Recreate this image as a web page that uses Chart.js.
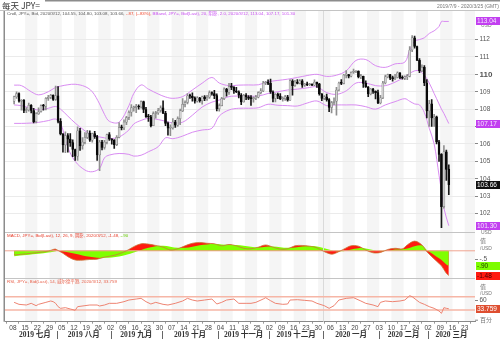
<!DOCTYPE html>
<html>
<head>
<meta charset="utf-8">
<script src="https://cdn.jsdelivr.net/npm/chart.js@4.4.1/dist/chart.umd.min.js"></script>
<style>
html, body { margin: 0; padding: 0; background: #fff; }
#wrap { position: relative; width: 500px; height: 347px; overflow: hidden; }
#chart { position: absolute; left: 0; top: 0; }
.hd { position: absolute; white-space: nowrap; }
</style>
</head>
<body>
<div id="wrap">
  <canvas id="chart" width="500" height="347"></canvas>
  <div class="hd" style="left:2px;top:-1px;font:8.5px 'Noto Sans CJK SC',sans-serif;color:#333">每天 JPY=</div>
  <div class="hd" style="right:1px;top:3px;font:5px 'Liberation Sans',sans-serif;color:#777">2019/7/9 - 2020/3/25 (GMT)</div>
</div>
<script>
const FONT = "'Liberation Sans', 'Noto Sans CJK SC', sans-serif";

// daily candles, one per weekday: index 0 = Mon 2019/7/8 ... index 178 = Thu 2020/3/12
const opens = [
  108.45,108.70,108.90,108.45,108.50, 107.92,107.95,108.22,107.92,107.28,
  107.73,107.85,108.20,108.17,108.62, 108.68,108.79,108.56,108.76,107.30,
  106.58,105.94,106.48,106.28,106.07, 105.68,105.30,106.75,105.90,106.10,
  106.38,106.62,106.22,106.60,106.42, 105.37,106.10,105.80,106.10,106.53,
  106.27,106.22,105.96,106.38,106.94, 106.92,107.25,107.52,107.82,108.08,
  108.10,108.15,108.12,108.44,107.98, 107.57,107.55,107.05,107.75,107.78,
  107.92,108.08,107.76,107.18,106.90, 106.92,107.25,107.08,107.45,107.90,
  108.28,108.38,108.76,108.75,108.65, 108.45,108.65,108.48,108.70,108.58,
  108.68,108.95,108.90,108.78,108.02, 108.20,108.60,109.15,108.98,109.30,
  109.25,109.05,109.00,108.80,108.42, 108.80,108.70,108.62,108.60,108.65,
  108.68,108.95,109.05,109.50,109.52, 109.48,109.00,108.62,108.85,108.75,
  108.58,108.60,108.70,108.52,109.62, 109.35,109.55,109.48,109.62,109.38,
  109.42,109.40,109.42,109.38,109.55, 109.45,108.88,108.62,108.70,108.55,
  108.10,108.38,108.45,109.10,109.50, 109.48,109.95,109.98,109.90,110.12,
  110.15,110.18,109.85,109.88,109.48, 109.28,108.88,109.15,109.02,108.95,
  108.35,108.65,109.50,109.85,109.98, 109.78,109.75,109.82,110.08,109.82,
  109.78,109.85,109.90,111.40,112.10, 111.60,110.80,110.20,110.40,109.50,
  107.90,108.30,107.50,107.55,106.12, 105.40,102.40,105.55,104.55
];
const highs = [
  108.75,108.99,108.94,108.55,108.55, 108.09,108.35,108.26,108.05,107.80,
  108.07,108.25,108.27,108.66,108.80, 108.85,108.82,109.32,109.30,107.45,
  106.60,106.70,106.60,106.60,106.24, 105.70,106.98,106.90,106.36,106.65,
  106.78,106.75,106.62,106.73,106.50, 106.20,106.20,106.20,106.57,106.65,
  106.30,106.25,106.48,107.23,107.08, 107.38,107.58,107.90,108.26,108.18,
  108.28,108.25,108.48,108.46,108.10, 107.70,107.65,107.85,107.88,108.05,
  108.19,108.47,107.88,107.25,107.10, 107.45,107.35,107.55,108.00,108.60,
  108.48,108.90,108.86,108.94,108.70, 108.72,108.68,108.75,108.78,108.80,
  109.05,109.00,109.08,108.88,108.30, 108.68,109.22,109.20,109.48,109.48,
  109.30,109.25,109.05,108.90,108.85, 108.90,108.78,108.78,108.70,108.80,
  109.00,109.18,109.60,109.60,109.68, 109.72,109.05,108.90,108.92,108.90,
  108.70,108.80,108.80,109.70,109.70, 109.65,109.70,109.70,109.70,109.48,
  109.55,109.48,109.45,109.68,109.55, 109.48,108.90,108.78,108.86,108.60,
  108.45,108.65,109.25,109.55,109.70, 110.00,110.22,110.00,110.15,110.30,
  110.20,110.20,110.00,109.90,109.62, 109.30,109.20,109.20,109.05,109.10,
  108.80,109.60,109.95,110.02,110.00, 109.90,110.00,110.15,110.10,109.92,
  109.92,110.00,111.60,112.22,112.20, 111.62,110.90,110.55,110.50,109.70,
  108.50,108.55,107.70,107.60,106.20, 105.45,105.90,105.65,104.80
];
const lows = [
  108.30,108.62,108.40,107.94,107.80, 107.80,107.88,107.78,107.21,107.20,
  107.70,107.83,107.94,107.95,108.50, 108.60,108.50,108.50,107.20,106.52,
  105.52,105.50,105.52,105.85,105.27, 105.05,105.05,105.63,105.70,106.00,
  106.30,106.14,106.10,106.31,105.05, 104.46,105.65,105.70,106.00,106.20,
  105.99,105.74,105.90,106.35,106.80, 106.82,107.10,107.40,107.60,107.88,
  107.80,108.00,108.05,107.80,107.52, 107.30,106.97,107.05,107.48,107.70,
  107.82,107.75,107.05,106.50,106.48, 106.85,106.95,107.00,107.10,107.85,
  108.12,108.30,108.62,108.45,108.34, 108.40,108.40,108.28,108.48,108.50,
  108.62,108.80,108.60,107.90,107.88, 108.18,108.55,108.75,108.85,109.12,
  108.90,108.95,108.65,108.25,108.40, 108.55,108.55,108.22,108.40,108.55,
  108.65,108.88,109.00,109.40,109.40, 108.90,108.42,108.42,108.60,108.55,
  108.45,108.50,108.45,108.50,108.80, 109.30,109.45,109.45,109.25,109.30,
  109.35,109.35,109.35,109.35,109.25, 108.80,108.48,108.55,108.45,107.85,
  107.78,108.25,107.65,109.05,109.40, 109.45,109.80,109.80,109.85,110.05,
  110.10,109.80,109.75,109.25,109.25, 108.72,108.82,108.90,108.58,108.32,
  108.30,108.60,109.45,109.80,109.70, 109.60,109.70,109.80,109.75,109.72,
  109.70,109.70,109.85,111.30,111.50, 110.80,110.10,110.15,109.35,107.50,
  107.00,107.00,107.00,106.00,105.00, 101.18,102.30,103.90,103.08
];
const closes = [
  108.70,108.90,108.45,108.50,107.92, 107.95,108.22,107.92,107.28,107.73,
  107.85,108.20,108.17,108.62,108.68, 108.79,108.56,108.76,107.30,106.58,
  105.94,106.48,106.28,106.07,105.68, 105.30,106.75,105.90,106.10,106.38,
  106.62,106.22,106.60,106.42,105.37, 106.10,105.80,106.10,106.53,106.27,
  106.22,105.96,106.38,106.94,106.92, 107.25,107.52,107.82,108.08,108.10,
  108.15,108.12,108.44,107.98,107.57, 107.55,107.05,107.75,107.78,107.92,
  108.08,107.76,107.18,106.90,106.92, 107.25,107.08,107.45,107.90,108.28,
  108.38,108.76,108.75,108.65,108.45, 108.65,108.48,108.70,108.58,108.68,
  108.95,108.90,108.78,108.02,108.20, 108.60,109.15,108.98,109.30,109.25,
  109.05,109.00,108.80,108.42,108.80, 108.70,108.62,108.60,108.65,108.68,
  108.95,109.05,109.50,109.52,109.48, 109.00,108.62,108.85,108.75,108.58,
  108.60,108.70,108.52,109.62,109.35, 109.55,109.48,109.62,109.38,109.42,
  109.40,109.42,109.38,109.55,109.45, 108.88,108.62,108.70,108.55,108.10,
  108.38,108.45,109.10,109.50,109.48, 109.95,109.98,109.90,110.12,110.15,
  110.18,109.85,109.88,109.48,109.28, 108.88,109.15,109.02,108.95,108.35,
  108.65,109.50,109.85,109.98,109.78, 109.75,109.82,110.08,109.82,109.78,
  109.85,109.90,111.40,112.10,111.60, 110.80,110.20,110.40,109.50,107.90,
  108.30,107.50,107.55,106.12,105.40, 102.40,105.55,104.53,103.66
];

// Bollinger band (20, 2) at these day indices
const bbIdx = [0,3,7,10,14,17,19,22,25,29,32,35,37,39,43,47,49,52,55,59,62,65,69,73,77,81,84,88,92,96,
  100,104,108,112,116,120,124,128,132,136,140,144,148,152,156,160,162,164,166,168,170,172,174,175,176,178];
const bbUpper = [109.38,109.35,109.00,108.82,109.00,109.25,109.32,109.40,109.43,109.30,
  109.00,108.30,107.70,107.30,107.25,108.20,108.90,109.39,109.15,108.87,
  108.70,108.62,108.72,109.10,109.49,109.82,109.50,109.35,109.38,109.39,
  109.40,109.57,109.65,109.72,109.82,109.93,110.00,109.88,109.95,110.20,
  110.80,110.85,110.50,110.40,110.60,110.70,111.40,111.90,112.00,112.10,
  112.35,112.50,112.75,113.04,113.04,113.04];
const bbMid = [108.24,108.20,108.05,107.95,108.05,108.15,108.00,107.60,107.20,106.75,
  106.50,106.40,106.35,106.30,106.40,106.80,107.15,107.35,107.47,107.40,
  107.30,107.20,107.25,107.65,108.12,108.40,108.52,108.72,108.75,108.75,
  108.75,108.90,109.00,109.10,109.15,109.22,109.28,108.95,108.85,109.05,
  109.50,109.50,109.35,109.35,109.55,109.85,110.05,110.20,110.20,109.95,
  109.50,108.90,108.30,108.00,107.75,107.17];
const bbLower = [107.18,107.18,107.20,107.24,107.34,107.43,107.20,105.80,105.00,104.50,
  104.40,104.60,105.20,105.36,105.45,105.40,105.30,105.35,105.55,105.84,
  106.35,106.30,106.45,106.67,106.80,106.90,107.60,107.95,108.05,108.05,
  108.08,108.28,108.22,108.20,108.18,108.35,108.47,108.20,108.24,108.24,
  108.24,108.14,108.00,108.24,108.43,108.60,108.45,108.30,108.24,107.80,
  106.90,106.00,104.20,103.30,102.30,101.30];

// MACD (12, 26, 9)
const macdIdx = [0,5,10,14,16,17,18,20,22,25,28,31,34,37,40,43,46,49,52,55,58,61,64,67,70,73,76,79,82,85,
  88,91,94,97,100,103,106,109,112,115,118,121,124,127,130,132,135,138,141,144,147,150,153,156,159,161,164,167,169,171,
  173,175,177,178];
const macdLine = [-0.25,-0.18,-0.10,-0.02,0.08,0.10,0.02,-0.15,-0.35,-0.55,
  -0.56,-0.52,-0.50,-0.38,-0.30,-0.18,0.00,0.25,0.42,0.40,
  0.32,0.22,0.05,0.12,0.30,0.45,0.50,0.45,0.42,0.30,
  0.38,0.30,0.15,0.12,0.22,0.35,0.22,0.10,0.12,0.30,
  0.32,0.28,0.18,-0.05,-0.20,-0.12,0.10,0.30,0.28,0.05,
  -0.12,-0.10,0.08,0.15,0.12,0.35,0.58,0.35,-0.05,-0.35,
  -0.62,-0.90,-1.35,-1.48];
const macdSignal = [-0.32,-0.25,-0.18,-0.10,-0.05,-0.02,0.00,-0.02,-0.08,-0.18,
  -0.28,-0.36,-0.42,-0.42,-0.40,-0.34,-0.24,-0.10,0.05,0.18,
  0.28,0.30,0.25,0.18,0.18,0.25,0.33,0.38,0.40,0.38,
  0.36,0.34,0.30,0.24,0.20,0.24,0.26,0.22,0.18,0.20,
  0.26,0.28,0.26,0.15,0.04,-0.02,-0.02,0.08,0.16,0.14,
  0.05,-0.02,0.00,0.08,0.10,0.14,0.28,0.32,0.05,-0.15,
  -0.35,-0.55,-0.82,-0.90];

// RSI (14, Wilder)
const rsiIdx = [0,2,5,7,9,10,13,15,16,17,18,19,21,23,25,26,29,31,34,35,37,39,42,45,47,50,52,54,56,58,
  61,63,66,69,71,73,75,78,81,83,85,87,90,92,95,97,99,102,103,105,107,110,112,113,116,119,122,124,127,129,
  131,133,136,139,142,144,147,149,150,152,155,158,160,162,163,166,168,170,172,174,175,176,177,178];
const rsiVal = [53,47,45,50,43,47,53,57,55,50,40,35,37,33,29,40,43,45,45,42,
  45,50,50,55,60,63,65,55,48,53,47,45,50,57,65,60,57,60,63,48,
  53,60,63,50,50,50,53,63,67,58,50,47,48,60,61,59,57,50,43,35,
  43,60,65,67,57,50,45,40,53,57,55,57,60,73,70,53,47,40,35,27,
  20,37,35,33.759];
const rsiBands = [70, 30];

// axis labels
const dayLabels = ['08','15','22','29','05','12','19','26','02','09','16','23','30','07','14','21','28','04','11',
  '18','25','02','09','16','23','30','06','13','20','27','03','10','17','24','02','09','16','23'];
const monthLabels = ['2019 七月','2019 八月','2019 九月','2019 十月','2019 十一月','2019 十二月','2020 一月','2020 二月','2020 三月'];
const monthStarts = [0, 18, 40, 61, 84, 105, 127, 150, 170];
const priceTicks = [102,103,104,105,106,107,108,109,110,111,112];

const last = closes.length - 1;
const pts = (idx, vals) => idx.map((x, k) => ({x, y: vals[k]}));
const isUp = i => closes[i] >= opens[i];
const trim = v => v.toFixed(2).replace(/^(-?)0\./, '$1.');

function hline(ctx, x1, y1, x2, y2) {
  ctx.beginPath(); ctx.moveTo(x1, y1); ctx.lineTo(x2, y2); ctx.stroke();
}
function tag(ctx, y, text, bg, fg) {
  ctx.fillStyle = bg;
  ctx.fillRect(476, Math.round(y) - 4, 24, 8);
  ctx.fillStyle = fg;
  ctx.font = '6.5px ' + FONT;
  ctx.textAlign = 'left';
  ctx.textBaseline = 'middle';
  ctx.fillText(text, 477, Math.round(y) + 0.5);
}
function segs(ctx, x, y, parts) {
  ctx.font = '4.4px ' + FONT;
  ctx.textAlign = 'left';
  ctx.textBaseline = 'middle';
  parts.forEach(([t, c]) => { ctx.fillStyle = c; ctx.fillText(t, x, y); x += ctx.measureText(t).width; });
}

const decor = {
  id: 'decor',
  beforeDraw(chart) {
    const {ctx, chartArea: a, scales: {x}} = chart;
    ctx.save();
    ctx.fillStyle = '#fff';
    ctx.fillRect(0, 0, chart.width, chart.height);
    ctx.fillStyle = '#f5f5f5';
    dayLabels.forEach((d, k) => {
      if (k % 2 === 0) return;
      const l = Math.max(a.left, x.getPixelForValue(5 * k - 0.5));
      const r = Math.min(a.right, x.getPixelForValue(5 * k + 4.5));
      if (r > l) ctx.fillRect(l, a.top, r - l, a.bottom - a.top);
    });
    ctx.restore();
  },
  beforeDatasetsDraw(chart) {
    const {ctx, chartArea: a, scales: {x, yMacd, yRsi}} = chart;
    ctx.save();
    ctx.strokeStyle = '#dadada';
    ctx.lineWidth = 1;
    const xy = Math.round(x.getPixelForValue(monthStarts[6] - 0.5)) + 0.5;
    hline(ctx, xy, a.top, xy, a.bottom);
    ctx.strokeStyle = '#f0a490';
    const y0 = yMacd.getPixelForValue(0);
    hline(ctx, a.left, y0, a.right, y0);
    ctx.strokeStyle = '#f6b6a6';
    ctx.lineWidth = 1.5;
    rsiBands.forEach(v => { const y = yRsi.getPixelForValue(v); hline(ctx, a.left, y, a.right, y); });
    ctx.restore();
  },
  afterDraw(chart) {
    const {ctx, chartArea: a, scales: {x, yMain, yMacd, yRsi}} = chart;
    ctx.save();
    // frame
    ctx.strokeStyle = '#c4c4c4';
    ctx.lineWidth = 1;
    hline(ctx, a.left, Math.round(yMain.bottom) + 0.5, a.right, Math.round(yMain.bottom) + 0.5);
    hline(ctx, a.left, Math.round(yMacd.bottom) + 0.5, a.right, Math.round(yMacd.bottom) + 0.5);
    hline(ctx, 0, 10.5, 500, 10.5);
    ctx.strokeStyle = '#8c8c8c';
    ctx.lineWidth = 1.5;
    hline(ctx, 4.25, a.top, 4.25, a.bottom);
    hline(ctx, 45, 0.75, 500, 0.75);

    // panel captions
    const chg = closes[last] - closes[last - 1];
    segs(ctx, 7, 13.5, [
      [`Cndl, JPY=, Bid, 2020/3/12, ${opens[last].toFixed(2)}, ${highs[last].toFixed(2)}, ${lows[last].toFixed(2)}, ${closes[last].toFixed(2)}, `, '#555'],
      [`${trim(chg)}, (${trim(chg / closes[last - 1] * 100)}%), `, '#f0462c'],
      [`BBand, JPY=, Bid(Last), 20, 阴影, 2.0, 2020/3/12, ${bbUpper[bbUpper.length - 1].toFixed(2)}, ${bbMid[bbMid.length - 1].toFixed(2)}, ${bbLower[bbLower.length - 1].toFixed(2)}`, '#c850f0']
    ]);
    const mL = macdLine[macdLine.length - 1], mS = macdSignal[macdSignal.length - 1];
    segs(ctx, 7, yMain.bottom + 3.5, [
      [`MACD, JPY=, Bid(Last), 12, 26, 9, 阴影, 2020/3/12, ${trim(mL)}, `, '#e8402e'],
      [trim(mS), '#66cc00']
    ]);
    segs(ctx, 7, yMacd.bottom + 3.8, [
      [`RSI, JPY=, Bid(Last), 14, 威尔德平滑, 2020/3/12, ${rsiVal[rsiVal.length - 1]}`, '#e8604a']
    ]);

    // right axis units and value tags
    ctx.fillStyle = '#777';
    ctx.font = '5px ' + FONT;
    ctx.textAlign = 'left';
    ctx.textBaseline = 'middle';
    ctx.fillText('USD', 481, 26);
    ctx.fillText('USD', 481, yMain.bottom + 0.5);
    ctx.font = '6px ' + FONT;
    ctx.fillText('值', 480, yMain.bottom + 9.5);
    ctx.fillText('值', 480, yMacd.bottom + 10);
    ctx.font = '5px ' + FONT;
    ctx.fillText('/USD', 480, yMain.bottom + 16.5);
    ctx.fillText('/USD', 480, yMacd.bottom + 15.5);
    ctx.font = '6px ' + FONT;
    ctx.fillText('百分', 480, a.bottom - 1.5);
    ctx.strokeStyle = '#888';
    ctx.lineWidth = 1;
    hline(ctx, 475, a.bottom - 1.5, 478, a.bottom - 1.5);

    const purple = '#c23ff0';
    tag(ctx, yMain.getPixelForValue(bbUpper[bbUpper.length - 1]), bbUpper[bbUpper.length - 1].toFixed(2), purple, '#f6e6ff');
    tag(ctx, yMain.getPixelForValue(bbMid[bbMid.length - 1]), bbMid[bbMid.length - 1].toFixed(2), purple, '#f6e6ff');
    tag(ctx, yMain.getPixelForValue(bbLower[bbLower.length - 1]), bbLower[bbLower.length - 1].toFixed(2), purple, '#f6e6ff');
    tag(ctx, yMain.getPixelForValue(closes[last]), closes[last].toFixed(2), '#111', '#fff');
    tag(ctx, yMacd.getPixelForValue(mS), trim(mS), '#7cfc00', '#223300');
    tag(ctx, yMacd.getPixelForValue(mL), trim(mL), '#ff1a10', '#400');
    tag(ctx, yRsi.getPixelForValue(rsiVal[rsiVal.length - 1]), String(rsiVal[rsiVal.length - 1]), '#de4e30', '#fff');

    // month row
    const bounds = monthStarts.map(s => x.getPixelForValue(s - 0.5));
    bounds.push(a.right);
    ctx.strokeStyle = '#666';
    ctx.fillStyle = '#333';
    ctx.font = "bold 7.5px 'Liberation Serif', 'Noto Sans CJK SC', serif";
    ctx.textAlign = 'center';
    monthLabels.forEach((m, k) => {
      const l = Math.max(a.left, bounds[k]), r = bounds[k + 1];
      ctx.fillText(m, (l + r) / 2, 335.5);
      if (k > 0) hline(ctx, Math.round(bounds[k]) + 0.5, 331, Math.round(bounds[k]) + 0.5, 339);
    });
    ctx.restore();
  }
};

const candleBodies = closes.map((c, i) => ({x: i, y: [Math.min(opens[i], c), Math.max(opens[i], c)]}));
const candleWicks = closes.map((c, i) => ({x: i, y: [lows[i], highs[i]]}));

new Chart('chart', {
  data: {
    datasets: [
      {
        type: 'bar', data: candleBodies, yAxisID: 'yMain', grouped: false,
        barThickness: 2, minBarLength: 1, borderSkipped: false, borderWidth: 0.5,
        backgroundColor: ctx => isUp(ctx.dataIndex) ? '#d2d2d2' : '#0a0a0a',
        borderColor: ctx => isUp(ctx.dataIndex) ? '#707070' : '#0a0a0a'
      },
      {
        type: 'bar', data: candleWicks, yAxisID: 'yMain', grouped: false,
        barThickness: 1, borderWidth: 0,
        backgroundColor: ctx => isUp(ctx.dataIndex) ? '#909090' : '#1a1a1a'
      },
      { type: 'line', data: pts(bbIdx, bbUpper), yAxisID: 'yMain', borderColor: '#d98cf2', borderWidth: 1, pointRadius: 0, tension: 0.35 },
      { type: 'line', data: pts(bbIdx, bbMid), yAxisID: 'yMain', borderColor: '#d98cf2', borderWidth: 1, pointRadius: 0, tension: 0.35 },
      { type: 'line', data: pts(bbIdx, bbLower), yAxisID: 'yMain', borderColor: '#d98cf2', borderWidth: 1, pointRadius: 0, tension: 0.35 },
      {
        type: 'line', data: pts(macdIdx, macdSignal), yAxisID: 'yMacd', fill: 'origin',
        backgroundColor: '#80ff00', borderColor: 'rgba(0,0,0,0)', borderWidth: 0.5, pointRadius: 0, tension: 0.35
      },
      {
        type: 'line', data: pts(macdIdx, macdLine), yAxisID: 'yMacd', fill: 'origin',
        backgroundColor: '#ff1a10', borderColor: '#c87a3a', borderWidth: 0.8, pointRadius: 0, tension: 0.35
      },
      { type: 'line', data: pts(rsiIdx, rsiVal), yAxisID: 'yRsi', borderColor: '#ee8472', borderWidth: 1, pointRadius: 0, tension: 0 }
    ]
  },
  options: {
    responsive: false,
    animation: false,
    devicePixelRatio: 1,
    layout: { padding: { left: 5, top: 11, right: 0, bottom: 0 } },
    plugins: {
      legend: { display: false },
      tooltip: { enabled: false },
      filler: { drawTime: 'beforeDatasetsDraw' }
    },
    scales: {
      x: {
        type: 'linear', min: -1.2, max: 186.2,
        afterBuildTicks: s => { s.ticks = dayLabels.map((d, k) => ({value: 5 * k - 0.5})); },
        afterFit: s => { s.height = 25.3; },
        grid: { display: true, drawOnChartArea: false, tickLength: 2, tickColor: '#999' },
        border: { display: true, color: '#888' },
        ticks: {
          autoSkip: false, maxRotation: 0, padding: 1, color: '#444',
          font: { size: 6.5, family: FONT },
          callback: (v, i) => dayLabels[i]
        }
      },
      yMain: {
        type: 'linear', position: 'right', stack: 'panels', stackWeight: 221.3,
        min: 100.92, max: 113.64,
        afterBuildTicks: s => { s.ticks = priceTicks.map(v => ({value: v})); },
        afterFit: s => { s.width = 25; },
        grid: { color: '#ebebeb', tickColor: '#888', tickLength: 3 },
        border: { display: false },
        ticks: {
          autoSkip: false, padding: 1.5, color: '#555',
          font: c => ({ size: c.tick && c.tick.value === 110 ? 8 : 6.5, family: FONT, weight: c.tick && c.tick.value === 110 ? 'bold' : 'normal' }),
          callback: v => String(v)
        }
      },
      yMacd: {
        type: 'linear', position: 'right', stack: 'panels', stackWeight: 45.4,
        min: -1.611, max: 1.108,
        afterBuildTicks: s => { s.ticks = [{value: -0.5}]; },
        afterFit: s => { s.width = 25; },
        grid: { drawOnChartArea: false, tickColor: '#888', tickLength: 3 },
        border: { display: false },
        ticks: { autoSkip: false, padding: 1.5, color: '#555', font: { size: 6.5, family: FONT }, callback: v => trim(v).replace('.50', '.5') }
      },
      yRsi: {
        type: 'linear', position: 'right', stack: 'panels', stackWeight: 44,
        min: -5.2, max: 127.1,
        afterBuildTicks: s => { s.ticks = [{value: 60}]; },
        afterFit: s => { s.width = 25; },
        grid: { drawOnChartArea: false, tickColor: '#888', tickLength: 3 },
        border: { display: false },
        ticks: { autoSkip: false, padding: 1.5, color: '#555', font: { size: 6.5, family: FONT }, callback: v => String(v) }
      }
    }
  },
  plugins: [decor]
});
</script>
</body>
</html>
